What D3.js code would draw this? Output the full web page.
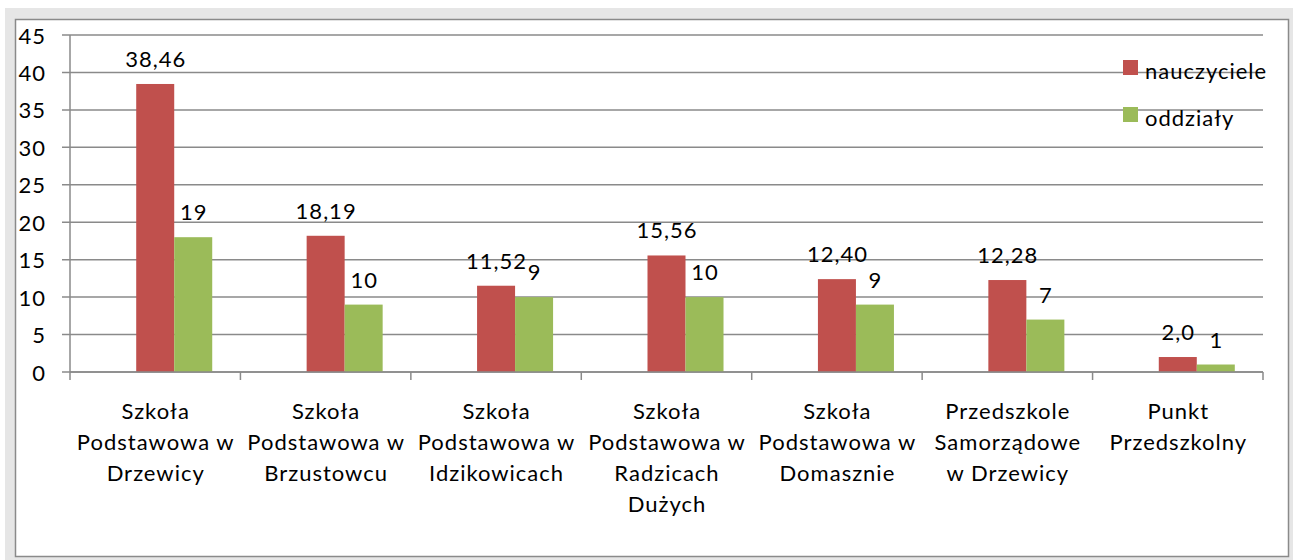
<!DOCTYPE html>
<html><head><meta charset="utf-8">
<script src="https://cdn.jsdelivr.net/npm/d3@7"></script>
<style>body{margin:0;background:#fff}svg{display:block}text{font-family:Lato,"Open Sans",sans-serif;fill:#000;letter-spacing:1px}</style>
</head><body>
<script>
const categories = ["Szkoła\nPodstawowa w\nDrzewicy","Szkoła\nPodstawowa w\nBrzustowcu","Szkoła\nPodstawowa w\nIdzikowicach","Szkoła\nPodstawowa w\nRadzicach\nDużych","Szkoła\nPodstawowa w\nDomasznie","Przedszkole\nSamorządowe\nw Drzewicy","Punkt\nPrzedszkolny"];
const seriesNames = ["nauczyciele","oddziały"];
const nauczyciele = [38.46,18.19,11.52,15.56,12.40,12.28,2.0];
const nauczycieleLabels = ["38,46","18,19","11,52","15,56","12,40","12,28","2,0"];
const oddzialy = [18,9,10,10,9,7,1];
const oddzialyLabels = ["19","10","9","10","9","7","1"];
const yTicks = [0,5,10,15,20,25,30,35,40,45];
const colors = ["#C0504D","#9BBB59"];

(function(){
const W=1293,H=560,FS=22;
const svg=d3.select("body").append("svg").attr("width",W).attr("height",H);
svg.append("rect").attr("x",5).attr("y",8).attr("width",W-5).attr("height",H-8).attr("fill","#E6E6E6");
svg.append("rect").attr("x",15.5).attr("y",19.5).attr("width",1273).attr("height",537).attr("fill","#fff").attr("stroke","#8a8a8a").attr("stroke-width",1.5);

const pL=70,pR=1263,pT=35,pB=372;
const y=d3.scaleLinear().domain([0,45]).range([pB,pT]);
const x0=d3.scaleBand().domain(d3.range(categories.length)).range([pL,pR]).padding(0);
// three slots per category (first slot is an empty series in the original)
const x1=d3.scaleBand().domain(["empty",0,1]).range([0,x0.bandwidth()]).paddingInner(0).paddingOuter(0.742);

svg.append("g").selectAll("line").data(yTicks).join("line")
 .attr("x1",pL-8).attr("x2",pR).attr("y1",d=>y(d)).attr("y2",d=>y(d))
 .attr("stroke","#8a8a8a").attr("stroke-width",1.5);
svg.append("g").selectAll("text").data(yTicks).join("text")
 .attr("x",46).attr("y",d=>y(d)).attr("text-anchor","end").attr("dominant-baseline","central")
 .attr("font-size",FS).text(d=>d);
svg.append("line").attr("x1",pL).attr("x2",pL).attr("y1",pT).attr("y2",pB).attr("stroke","#8a8a8a").attr("stroke-width",1.5);
svg.append("g").selectAll("line").data(d3.range(categories.length+1)).join("line")
 .attr("x1",i=>pL+i*x0.step()).attr("x2",i=>pL+i*x0.step()).attr("y1",pB).attr("y2",pB+8)
 .attr("stroke","#8a8a8a").attr("stroke-width",1.5);

const series=[nauczyciele,oddzialy];
const labels=[nauczycieleLabels,oddzialyLabels];
series.forEach((vals,s)=>{
  const g=svg.append("g");
  g.selectAll("rect").data(vals).join("rect")
   .attr("x",(d,i)=>x0(i)+x1(s)).attr("width",x1.bandwidth())
   .attr("y",d=>y(d)).attr("height",d=>y(0)-y(d)).attr("fill",colors[s]);
  g.selectAll("text").data(vals).join("text")
   .attr("x",(d,i)=>x0(i)+x1(s)+x1.bandwidth()/2+0.5).attr("y",d=>y(d)-17)
   .attr("text-anchor","middle").attr("font-size",FS).text((d,i)=>labels[s][i]);
});
svg.append("line").attr("x1",pL).attr("x2",pR).attr("y1",pB).attr("y2",pB).attr("stroke","#8a8a8a").attr("stroke-width",1.5);

const cg=svg.append("g");
categories.forEach((c,i)=>{
  const t=cg.append("text").attr("text-anchor","middle").attr("font-size",FS);
  c.split("\n").forEach((ln,j)=>{
    t.append("tspan").attr("x",x0(i)+x0.bandwidth()/2+0.5).attr("y",410+j*31).attr("dominant-baseline","central").text(ln);
  });
});

const lg=svg.append("g");
seriesNames.forEach((n,s)=>{
  lg.append("rect").attr("x",1123).attr("y",60+s*47).attr("width",15).attr("height",15).attr("fill",colors[s]);
  lg.append("text").attr("x",1145).attr("y",70+s*47).attr("dominant-baseline","central").attr("font-size",FS).text(n);
});
})();
</script>
</body></html>
